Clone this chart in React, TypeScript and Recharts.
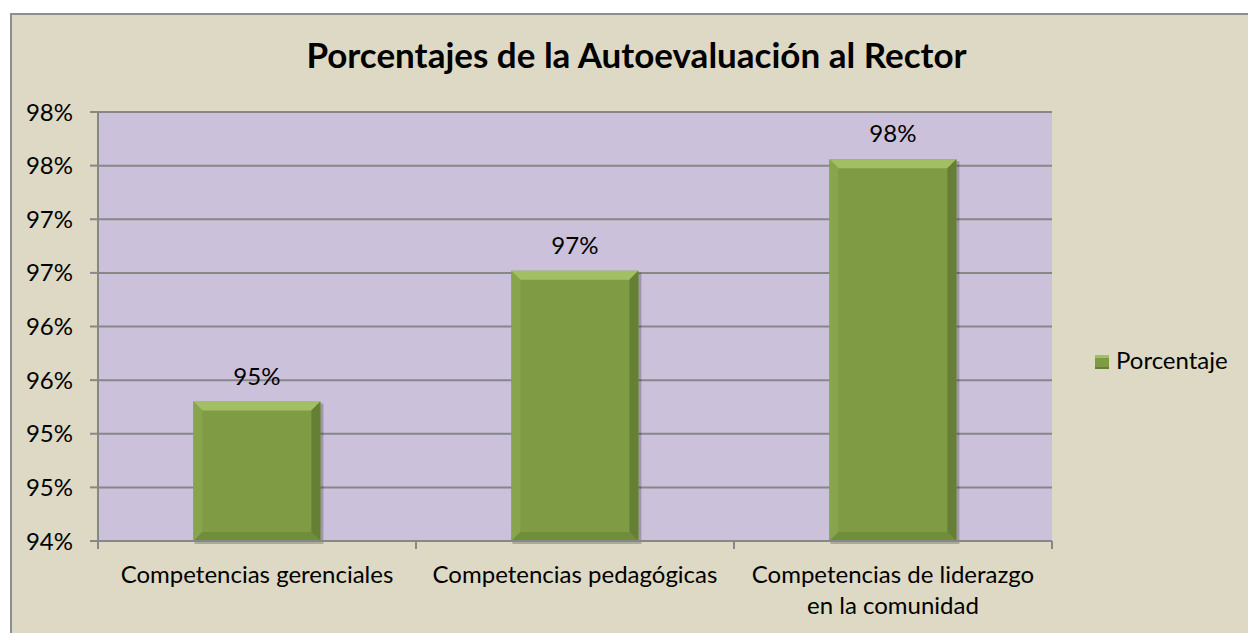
import { BarChart, Bar, XAxis, YAxis, CartesianGrid, LabelList } from "recharts";

const categories = [
  "Competencias gerenciales",
  "Competencias pedagógicas",
  "Competencias de liderazgo\nen la comunidad",
];
const porcentaje = [95.3, 96.52, 97.56];
const yTicks = [94, 94.5, 95, 95.5, 96, 96.5, 97, 97.5, 98];

const data = categories.map((name, i) => ({ name, porcentaje: porcentaje[i] }));

const W = 1248;
const H = 633;
const PLOT_LEFT = 98;
const PLOT_RIGHT = 1052;
const PLOT_TOP = 112;
const PLOT_BOTTOM = 541;
const BAND = (PLOT_RIGHT - PLOT_LEFT) / categories.length;
const FONT = "Lato, Carlito, Calibri, sans-serif";
const FS = 24;
const GRID = "#878787";

const pct = (v: any) => `${Math.round(Number(v))}%`;

function BevelBar(props: any) {
  const { x, y, width: w, height: h } = props;
  if (!h || h <= 0) return null;
  const b = Math.min(9, h / 2);
  return (
    <g>
      <rect x={x + 1} y={y + 2} width={w + 2} height={h + 1} fill="#000" opacity={0.22} />
      <rect x={x} y={y} width={w} height={h} fill="#7f9c45" />
      <polygon points={`${x},${y} ${x + w},${y} ${x + w - b},${y + b} ${x + b},${y + b}`} fill="#a2c063" />
      <polygon points={`${x},${y} ${x + b},${y + b} ${x + b},${y + h - b} ${x},${y + h}`} fill="#88a54e" />
      <polygon points={`${x + w},${y} ${x + w},${y + h} ${x + w - b},${y + h - b} ${x + w - b},${y + b}`} fill="#657f35" />
      <polygon points={`${x},${y + h} ${x + w},${y + h} ${x + w - b},${y + h - b} ${x + b},${y + h - b}`} fill="#708d3b" />
    </g>
  );
}

function CategoryTick(props: any) {
  const { x, payload } = props;
  const isLast = payload.value === categories[categories.length - 1];
  const lines = String(payload.value).split("\n");
  return (
    <g>
      <line x1={x - BAND / 2} y1={PLOT_BOTTOM} x2={x - BAND / 2} y2={PLOT_BOTTOM + 8} stroke={GRID} strokeWidth={2} />
      {isLast && (
        <line x1={x + BAND / 2} y1={PLOT_BOTTOM} x2={x + BAND / 2} y2={PLOT_BOTTOM + 8} stroke={GRID} strokeWidth={2} />
      )}
      <text x={x} y={PLOT_BOTTOM + 42} textAnchor="middle" fontSize={FS} fontFamily={FONT} fill="#000">
        {lines.map((l, i) => (
          <tspan key={i} x={x} dy={i === 0 ? 0 : 31}>
            {l}
          </tspan>
        ))}
      </text>
    </g>
  );
}

export default function App() {
  return (
    <div style={{ position: "absolute", left: 0, top: 0, width: W, height: H, overflow: "hidden", background: "#fff" }}>
      <div
        style={{
          position: "absolute",
          left: 10,
          top: 13,
          width: 1300,
          height: 700,
          background: "#ddd9c4",
          borderLeft: "2px solid #8e8e8e",
          borderTop: "2px solid #8e8e8e",
        }}
      />
      <div
        style={{
          position: "absolute",
          left: 0,
          top: 36,
          width: 1273,
          textAlign: "center",
          fontFamily: FONT,
          fontWeight: 700,
          fontSize: 35,
          lineHeight: "36px",
          color: "#000",
        }}
      >
        Porcentajes de la Autoevaluación al Rector
      </div>
      <div style={{ position: "absolute", left: 0, top: 0 }}>
        <BarChart
          width={W}
          height={H}
          data={data}
          margin={{ top: PLOT_TOP, right: W - PLOT_RIGHT, bottom: 0, left: 0 }}
          barCategoryGap="30%"
        >
          <CartesianGrid vertical={false} fill="#ccc1da" stroke={GRID} strokeWidth={2} />
          <XAxis
            dataKey="name"
            height={H - PLOT_BOTTOM}
            interval={0}
            tickLine={false}
            tickSize={0}
            tickMargin={0}
            axisLine={{ stroke: GRID, strokeWidth: 2 }}
            tick={<CategoryTick />}
          />
          <YAxis
            width={PLOT_LEFT}
            domain={[94, 98]}
            ticks={yTicks}
            interval={0}
            tickFormatter={pct}
            tickSize={8}
            tickMargin={17}
            tickLine={{ stroke: GRID, strokeWidth: 2 }}
            axisLine={{ stroke: GRID, strokeWidth: 2 }}
            tick={{ fontSize: FS, fontFamily: FONT, fill: "#000" }}
          />
          <Bar dataKey="porcentaje" shape={<BevelBar />} isAnimationActive={false}>
            <LabelList
              dataKey="porcentaje"
              position="top"
              offset={17}
              formatter={pct}
              style={{ fontSize: FS, fontFamily: FONT, fill: "#000" }}
            />
          </Bar>
        </BarChart>
      </div>
      <div
        style={{
          position: "absolute",
          left: 1095,
          top: 355,
          width: 14,
          height: 14,
          background: "#7f9c45",
          boxShadow: "inset 0 3px 0 #a2c063, inset 0 -2px 0 #657f35",
        }}
      />
      <div
        style={{
          position: "absolute",
          left: 1116,
          top: 348,
          fontFamily: FONT,
          fontSize: FS,
          lineHeight: `${FS}px`,
          color: "#000",
        }}
      >
        Porcentaje
      </div>
    </div>
  );
}
